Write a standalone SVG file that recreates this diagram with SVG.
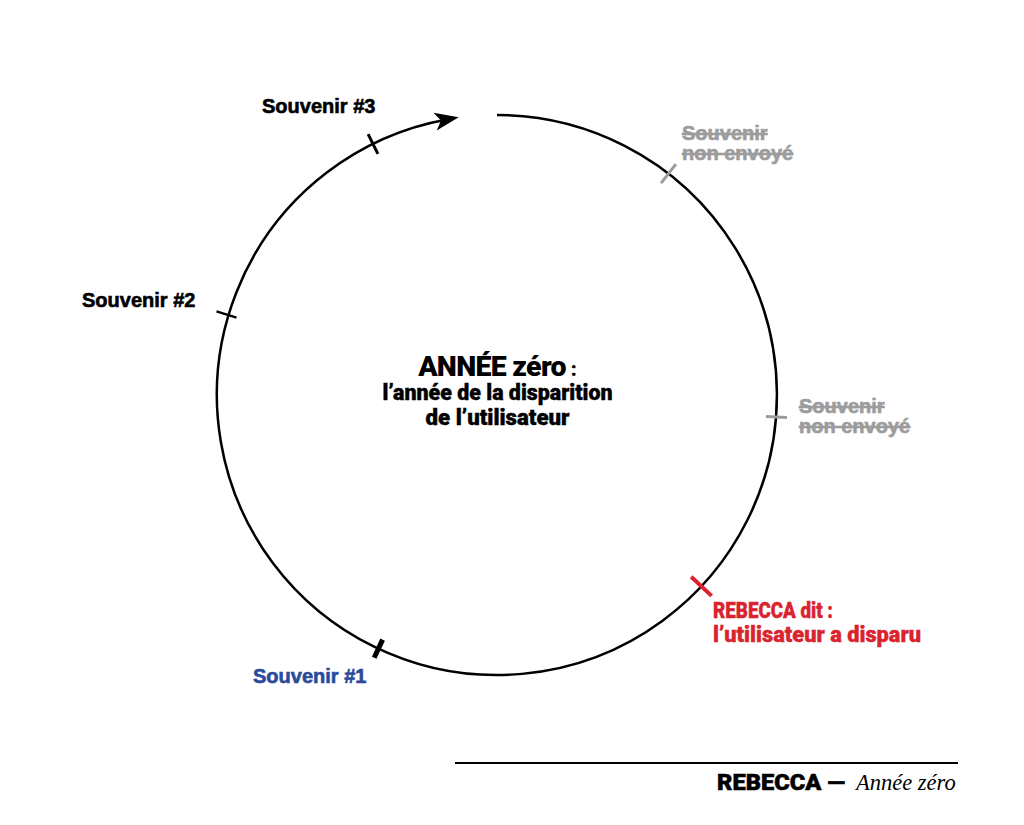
<svg xmlns="http://www.w3.org/2000/svg" width="1024" height="825" viewBox="0 0 1024 825">
  <defs>
    <marker id="arrow" markerUnits="userSpaceOnUse" markerWidth="30" markerHeight="30" refX="0" refY="0" viewBox="-10 -10 20 20" orient="auto" overflow="visible">
      <path d="M8,0 L-8,-6 L-4,0 L-8,6 Z" fill="#000"/>
    </marker>
    <style>
      .lbl { font-family: "Liberation Sans", Arial, sans-serif; font-weight: 700; font-size: 20px; stroke-width: 0.6px; paint-order: stroke; }
      .blk { fill: #000; stroke: #000; }
      .blue { fill: #2a4a9b; stroke: #2a4a9b; }
      .gray { fill: #9c9c9c; stroke: #9c9c9c; text-decoration: line-through; }
      .cond { font-family: Roboto, "Liberation Sans", sans-serif; font-weight: 900; }
      .tick { stroke-linecap: butt; fill: none; }
    </style>
  </defs>
  <rect width="1024" height="825" fill="#fff"/>

  <g id="connectors">
    <path id="cycle" d="M497,115 A280,280 0 1 1 446.9,119.5" fill="none" stroke="#000" stroke-width="2.5" marker-end="url(#arrow)"/>
  </g>

  <g id="center-label">
    <text class="cond" x="497.5" y="376" text-anchor="middle" font-size="28.5" letter-spacing="-0.7">ANNÉE zéro<tspan font-size="20" letter-spacing="0"> :</tspan></text>
    <text class="cond" x="497.5" y="400" text-anchor="middle" font-size="22" font-weight="700" textLength="230" lengthAdjust="spacingAndGlyphs" stroke="#000" stroke-width="0.4">l’année de la disparition</text>
    <text class="cond" x="497.5" y="425" text-anchor="middle" font-size="22" font-weight="700" textLength="144" lengthAdjust="spacingAndGlyphs" stroke="#000" stroke-width="0.4">de l’utilisateur</text>
  </g>

  <g id="souvenir-3">
    <line class="tick" x1="368.1" y1="134.1" x2="377.9" y2="153.9" stroke="#000" stroke-width="3"/>
    <text class="lbl blk" x="262" y="113">Souvenir #3</text>
  </g>

  <g id="non-envoye-1">
    <line class="tick" x1="675.9" y1="164.2" x2="661.1" y2="183.2" stroke="#9c9c9c" stroke-width="3"/>
    <text class="lbl gray" x="682" y="140">Souvenir</text>
    <text class="lbl gray" x="682" y="160">non envoyé</text>
  </g>

  <g id="non-envoye-2">
    <line class="tick" x1="766" y1="416.5" x2="787" y2="417.5" stroke="#9c9c9c" stroke-width="3"/>
    <text class="lbl gray" x="799" y="413">Souvenir</text>
    <text class="lbl gray" x="799" y="433">non envoyé</text>
  </g>

  <g id="rebecca-dit">
    <line class="tick" x1="711.6" y1="595.9" x2="691.2" y2="576.7" stroke="#d9232e" stroke-width="4"/>
    <text class="cond" x="713" y="618" font-size="22" font-weight="700" fill="#d9232e" stroke="#d9232e" stroke-width="0.4" textLength="120" lengthAdjust="spacingAndGlyphs">REBECCA dit :</text>
    <text class="cond" x="713" y="642" font-size="22" font-weight="700" fill="#d9232e" stroke="#d9232e" stroke-width="0.4" textLength="208" lengthAdjust="spacingAndGlyphs">l’utilisateur a disparu</text>
  </g>

  <g id="souvenir-1">
    <line class="tick" x1="374.2" y1="657.8" x2="382.6" y2="639.6" stroke="#000" stroke-width="5"/>
    <text class="lbl blue" x="253" y="683">Souvenir #1</text>
  </g>

  <g id="souvenir-2">
    <line class="tick" x1="216.5" y1="311.4" x2="236.5" y2="317.6" stroke="#000" stroke-width="2.5"/>
    <text class="lbl blk" x="82" y="307">Souvenir #2</text>
  </g>

  <g id="footer">
    <line x1="455" y1="763" x2="958" y2="763" stroke="#000" stroke-width="2"/>
    <text class="cond" x="717" y="790" font-size="22" font-weight="700" stroke="#000" stroke-width="0.5" textLength="128" lengthAdjust="spacingAndGlyphs">REBECCA —</text>
    <text x="856" y="790" font-family="'Liberation Serif', 'Times New Roman', serif" font-style="italic" font-size="22.5">Année zéro</text>
  </g>
</svg>
